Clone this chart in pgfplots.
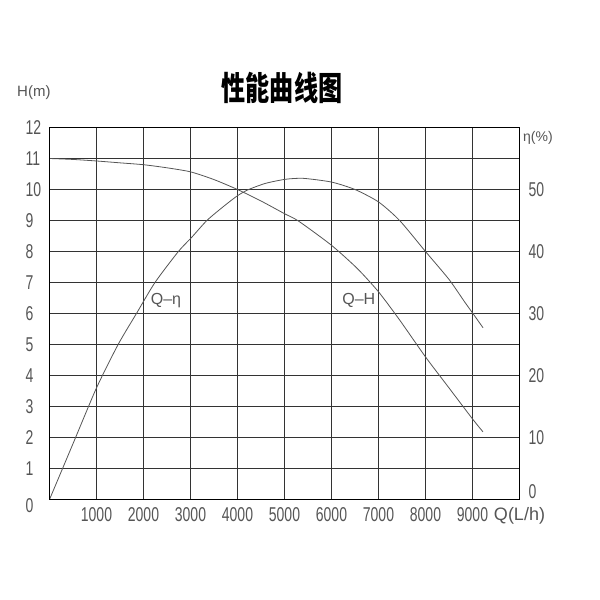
\documentclass[border=0pt]{standalone}
\usepackage{fontspec}
\usepackage{pgfplots}
\pgfplotsset{compat=1.18}
\setmainfont{Liberation Sans}
\newfontfamily\lab[FakeStretch=0.7]{Liberation Sans}
\newfontfamily\cjk{Noto Sans CJK SC}
\definecolor{txt}{HTML}{555555}
\definecolor{grd}{HTML}{333333}
\definecolor{crv}{HTML}{555555}

\pgfplotsset{
  perf/.style={
    at={(49.5pt,-499.5pt)}, anchor=south west,
    scale only axis, width=470pt, height=372pt,
    xmin=0, xmax=10000,
    scaled x ticks=false,
    major tick length=0pt,
    axis line style={black, line width=1pt},
    tick label style={font=\lab\fontsize{20}{20}\selectfont, text=txt, inner sep=0pt},
    clip=false,
  }
}

\begin{document}
\begin{tikzpicture}
\path[use as bounding box] (0pt,0pt) rectangle (600pt,-600pt);

\begin{axis}[perf,
  ymin=0, ymax=12,
  xtick={1000,2000,3000,4000,5000,6000,7000,8000,9000,10000},
  xticklabels={1000,2000,3000,4000,5000,6000,7000,8000,9000,{\rmfamily\fontsize{18}{18}\selectfont Q(L/h)}},
  ytick={1,2,3,4,5,6,7,8,9,10,11,12},
  yticklabels={1,2,3,4,5,6,7,8,9,10,11,12},
  extra y ticks={0},
  extra y tick labels={0},
  extra y tick style={yticklabel style={yshift=-6pt}},
  xticklabel style={anchor=north, yshift=-8pt},
  yticklabel style={anchor=west, xshift=-24pt},
  grid=major,
  major grid style={grd, line width=1pt},
]
% Q-H
\addplot[crv, line width=0.8pt, smooth, tension=0.4] coordinates {
  (0,11.0) (500,10.97) (1000,10.92) (1500,10.86) (2000,10.8) (2500,10.7)
  (3000,10.57) (3500,10.32) (4000,10.0) (4500,9.63) (5000,9.22) (5300,8.98)
  (6000,8.2) (6550,7.45) (7000,6.7) (7450,5.79) (8000,4.6) (8500,3.6)
  (9000,2.6) (9224,2.18)
};
% Q-eta (eta/5 on the H scale)
\addplot[crv, line width=0.8pt, smooth, tension=0.4] coordinates {
  (0,0) (500,1.8) (1000,3.6) (1460,5.0) (1850,6.0) (2244,7.0) (2742,8.0)
  (3027,8.46) (3348,9.0) (3700,9.45) (4000,9.8) (4237,10.0) (4600,10.2)
  (5021,10.33) (5400,10.36) (6000,10.24) (6500,10.0) (7000,9.6) (7450,9.0)
  (8000,8.0) (8500,7.1) (8830,6.38) (9000,6.02) (9224,5.54)
};
\node[text=txt, font=\fontsize{16}{16}\selectfont] at (axis cs:2479,6.41) {Q--η};
\node[text=txt, font=\fontsize{16}{16}\selectfont] at (axis cs:6581,6.41) {Q--H};
\end{axis}

\begin{axis}[perf,
  ymin=0, ymax=60,
  xtick=\empty,
  yticklabel pos=right,
  ytick={10,20,30,40,50},
  yticklabels={10,20,30,40,50},
  extra y ticks={0},
  extra y tick labels={0},
  extra y tick style={yticklabel style={yshift=8pt}},
  yticklabel style={anchor=west, xshift=9pt},
]
\end{axis}

\node[anchor=west, inner sep=0pt, text=txt, font=\fontsize{15}{15}\selectfont] at (17pt,-93pt) {H(m)};
\node[anchor=west, inner sep=0pt, text=txt, font=\fontsize{14}{14}\selectfont] at (523pt,-138pt) {η(\%)};
\node[inner sep=0pt, font=\cjk\bfseries\fontsize{33}{33}\selectfont, xscale=0.73] at (282pt,-88pt) {性能曲线图};
\end{tikzpicture}
\end{document}
